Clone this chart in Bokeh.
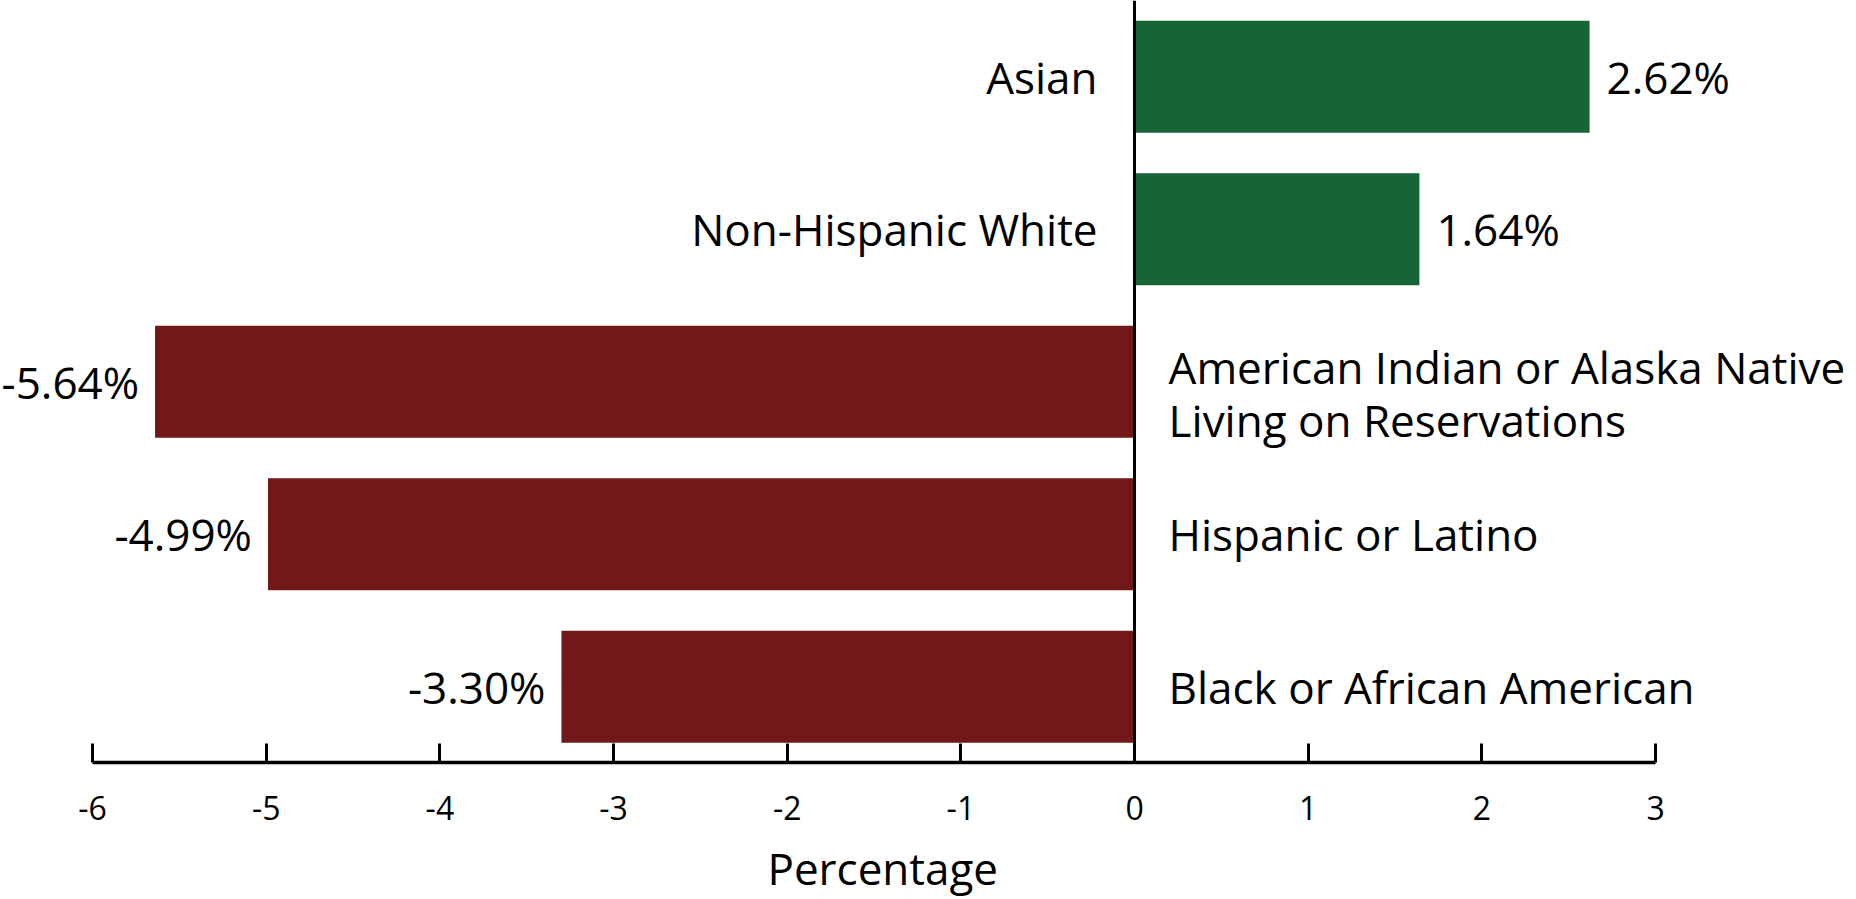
from bokeh.plotting import figure
from bokeh.models import ColumnDataSource, Range1d, LinearAxis, FixedTicker, Label
from bokeh.core.properties import value
from bokeh.embed import file_html
from bokeh.resources import INLINE

categories = ["Asian", "Non-Hispanic White",
              "American Indian or Alaska Native\nLiving on Reservations",
              "Hispanic or Latino", "Black or African American"]
values = [2.62, 1.64, -5.64, -4.99, -3.30]
value_labels = ["2.62%", "1.64%", "-5.64%", "-4.99%", "-3.30%"]
tick_values = [-6, -5, -4, -3, -2, -1, 0, 1, 2, 3]
tick_labels = ["-6", "-5", "-4", "-3", "-2", "-1", "0", "1", "2", "3"]
x_title = "Percentage"

POS = "#176537"
NEG = "#721818"
FONT = "Open Sans"

n = len(categories)
ypos = [n - 1 - i for i in range(n)]
src = ColumnDataSource(dict(
    y=ypos,
    v=values,
    lab=value_labels,
    cat=categories,
    color=[POS if v >= 0 else NEG for v in values],
    lab_align=["left" if v >= 0 else "right" for v in values],
    lab_off=[17 if v >= 0 else -16 for v in values],
    cat_align=["right" if v >= 0 else "left" for v in values],
    cat_off=[-37 if v >= 0 else 34 for v in values],
    cat_yoff=[12 if "\n" in c else 0 for c in categories],
    zero=[0] * n,
))

y_top = n - 0.5
y_axis_pos = -0.5
p = figure(width=1856, height=899, output_backend="svg", toolbar_location=None,
           x_range=Range1d(-6.530, 4.157), y_range=Range1d(-1.3955, y_top),
           min_border_left=0, min_border_right=0, min_border_top=0, min_border_bottom=0,
           x_axis_location=None, y_axis_location=None)
p.outline_line_color = None
p.xgrid.visible = False
p.ygrid.visible = False
p.background_fill_color = "white"
p.border_fill_color = "white"

p.hbar(y="y", left="zero", right="v", height=0.734, color="color", source=src, line_color=None)

# vertical zero line: a bare axis fixed at x = 0
zax = LinearAxis(fixed_location=0, bounds=(y_axis_pos, y_top), ticker=FixedTicker(ticks=[]))
zax.axis_line_width = 3
zax.axis_line_color = "black"
zax.major_tick_line_color = None
zax.minor_tick_line_color = None
zax.major_label_text_color = None
p.add_layout(zax, "left")

p.text(x="v", y="y", text="lab", x_offset="lab_off", text_align="lab_align",
       text_baseline="middle", text_font=value(FONT), text_font_size="44px",
       text_color="black", source=src)
p.text(x="zero", y="y", text="cat", x_offset="cat_off", y_offset="cat_yoff",
       text_align="cat_align", text_baseline="middle", text_font=value(FONT),
       text_font_size="44px", text_color="black", text_line_height=0.89, source=src)

ax = LinearAxis(fixed_location=y_axis_pos, bounds=(tick_values[0], tick_values[-1]),
                ticker=FixedTicker(ticks=tick_values))
ax.major_label_overrides = {t: s for t, s in zip(tick_values, tick_labels)}
ax.axis_line_width = 3.5
ax.axis_line_color = "black"
ax.major_tick_line_width = 3
ax.major_tick_line_color = "black"
ax.major_tick_in = 19
ax.major_tick_out = 0
ax.minor_tick_line_color = None
ax.major_label_text_font = FONT
ax.major_label_text_font_size = "32px"
ax.major_label_text_color = "black"
ax.major_label_standoff = 33
p.add_layout(ax, "below")

p.add_layout(Label(x=-1.45, y=-1.192, text=x_title, text_align="center",
                   text_baseline="middle", text_font=FONT, text_font_size="44px",
                   text_color="black"))

open("out.html", "w").write(file_html(p, INLINE))
